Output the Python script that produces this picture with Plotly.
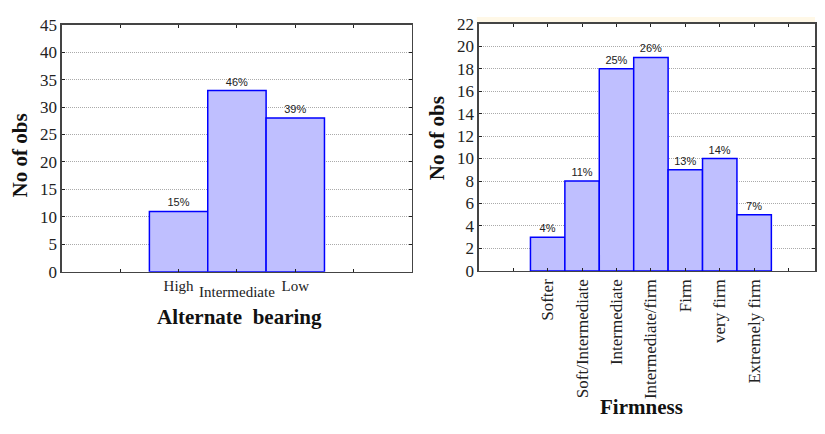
import plotly.graph_objects as go

# ---- data ----
bearing_cats = ["High", "Intermediate", "Low"]
bearing_counts = [11, 33, 28]
bearing_pct = ["15%", "46%", "39%"]

firm_cats = ["Softer", "Soft/Intermediate", "Intermediate", "Intermediate/firm",
             "Firm", "very firm", "Extremely firm"]
firm_counts = [3, 8, 18, 19, 9, 10, 5]
firm_pct = ["4%", "11%", "25%", "26%", "13%", "14%", "7%"]

# page is 825x434; the default body margin is 8px, so the figure is 809x418
OFF = 8
W, H = 825 - 2 * OFF, 434 - 2 * OFF
SERIF = "Liberation Serif, Times New Roman, serif"
SANS = "Liberation Sans, Arial, sans-serif"
FILL = "#BFBFFF"
EDGE = "#0000FF"
AXC = "#444444"

def px_x(p):
    return min(max((p - OFF) / W, 0.0), 1.0)

def px_y(p):
    return min(max((H - (p - OFF)) / H, 0.0), 1.0)

fig = go.Figure()

fig.add_trace(go.Bar(
    x=list(range(len(bearing_cats))), y=bearing_counts, width=1,
    marker=dict(color=FILL, line=dict(color=EDGE, width=1.5)),
    text=bearing_pct, textposition="outside", cliponaxis=False,
    textfont=dict(family=SANS, size=11, color="#222222"),
    xaxis="x", yaxis="y", showlegend=False, hoverinfo="skip"))

fig.add_trace(go.Bar(
    x=list(range(len(firm_cats))), y=firm_counts, width=1,
    marker=dict(color=FILL, line=dict(color=EDGE, width=1.5)),
    text=firm_pct, textposition="outside", cliponaxis=False,
    textfont=dict(family=SANS, size=11, color="#222222"),
    xaxis="x2", yaxis="y2", showlegend=False, hoverinfo="skip"))

common_x = dict(showline=True, linecolor=AXC, linewidth=1.5, mirror="ticks",
                ticks="inside", ticklen=3, tickcolor="#222222", tickwidth=1,
                showgrid=False, zeroline=False, fixedrange=True)
common_y = dict(showline=True, linecolor=AXC, linewidth=1.5, mirror="ticks",
                ticks="inside", ticklen=3, tickcolor="#222222", tickwidth=1,
                showgrid=True, gridcolor="#AAAAAA", griddash="1px,1px", gridwidth=1,
                zeroline=False, fixedrange=True, ticklabeloverflow="allow",
                tickfont=dict(family=SERIF, size=17, color="#222222"))

def title(text, x, y, size, angle=0):
    return dict(text=text, xref="paper", yref="paper", x=px_x(x), y=px_y(y),
                xanchor="center", yanchor="middle", textangle=angle,
                showarrow=False, font=dict(family=SERIF, size=size, color="#111111"))

# left x tick labels: High and Low on the axis, Intermediate staggered lower
left_ticktext = ["", bearing_cats[0], "", bearing_cats[2], ""]
stagger = dict(text=bearing_cats[1], xref="x", yref="paper", x=1, y=px_y(296),
               xanchor="center", yanchor="middle", showarrow=False,
               font=dict(family=SERIF, size=15, color="#222222"))

# right panel: reference spans 480..825 px for 10 category units; page clips at 817
r_left = 480
unit = (825 - r_left) / 10.0
x2_max = -2 + ((W + OFF) - r_left) / unit

fig.update_layout(
    width=W, height=H, autosize=False, margin=dict(l=0, r=0, t=0, b=0),
    paper_bgcolor="white", plot_bgcolor="white", bargap=0,
    xaxis=dict(domain=[px_x(62), px_x(413)], range=[-2, 4],
               tickvals=[-1, 0, 1, 2, 3], ticktext=left_ticktext,
               tickfont=dict(family=SERIF, size=15, color="#222222"),
               anchor="y", **common_x),
    yaxis=dict(domain=[px_y(275), px_y(16)], range=[0, 45], dtick=5,
               anchor="x", **common_y),
    xaxis2=dict(domain=[px_x(r_left), 1.0], range=[-2, x2_max],
                tickvals=list(range(-1, 8)),
                ticktext=[""] + firm_cats + [""], tickangle=-90,
                tickfont=dict(family=SERIF, size=17, color="#222222"),
                anchor="y2", **common_x),
    yaxis2=dict(domain=[px_y(274), px_y(15)], range=[0, 22], dtick=2,
                anchor="x2", **common_y),
    shapes=[dict(type="rect", xref="paper", yref="paper",
                 x0=px_x(478), x1=1.0, y0=px_y(15), y1=1.0,
                 fillcolor="#FFF8E7", line=dict(width=0), layer="below")],
    annotations=[
        stagger,
        title("<b>No of obs</b>", 20, 153, 21, -90),
        title("<b>No of obs</b>", 438, 135, 21, -90),
        title("<b>Alternate\u00a0\u00a0bearing</b>", 240, 322, 21),
        title("<b>Firmness</b>", 643, 417, 21),
    ],
)

fig.write_html("out.html",
               config={"displayModeBar": False, "responsive": False,
                       "staticPlot": True})
